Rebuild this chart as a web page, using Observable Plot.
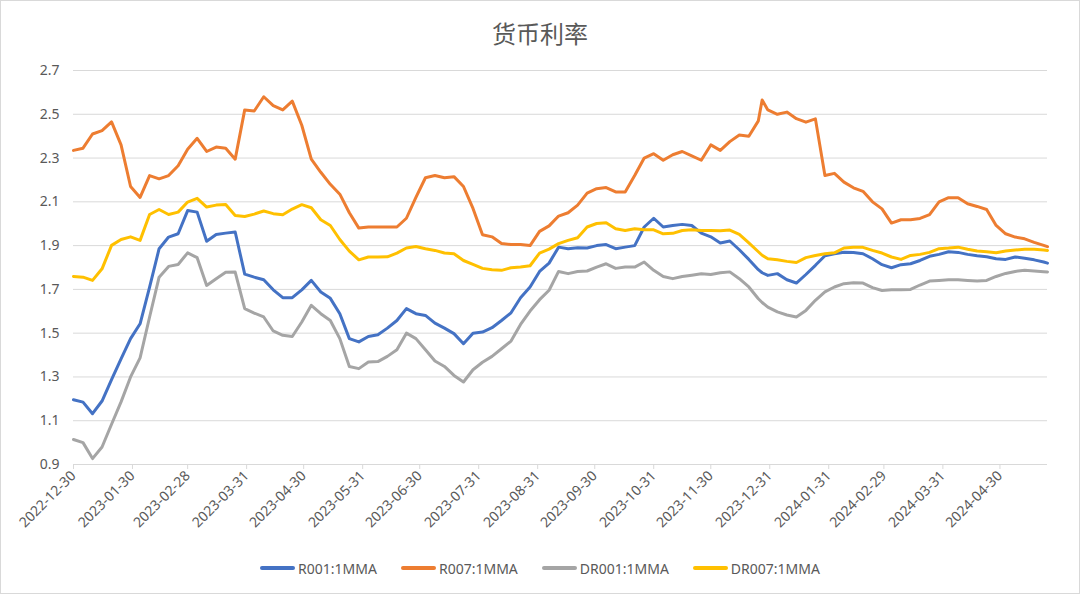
<!DOCTYPE html>
<html>
<head>
<meta charset="utf-8">
<script src="https://cdn.jsdelivr.net/npm/d3@7"></script>
<script src="https://cdn.jsdelivr.net/npm/@observablehq/plot@0.6"></script>
<style>
  html, body { margin: 0; padding: 0; background: #fff; }
  #wrap { position: relative; width: 1080px; height: 594px; background: #fff; overflow: hidden; }
  #frame { position: absolute; left: 0; top: 0; width: 1080px; height: 594px; box-sizing: border-box; border: 1px solid #d9d9d9; pointer-events: none; }
  #title { position: absolute; left: 0; top: 19px; width: 1080px; text-align: center; font-family: "Noto Sans CJK SC", sans-serif; font-size: 24px; line-height: 28px; color: #595959; }
  #plot { position: absolute; left: 0; top: 50px; }
  #legend { position: absolute; left: 0; top: 558px; width: 1080px; height: 20px; display: flex; justify-content: center; align-items: center; gap: 24px; font-family: "Noto Sans", sans-serif; font-size: 14px; color: #595959; }
  .item { display: flex; align-items: center; }
  .sw { display: inline-block; width: 35px; height: 4px; border-radius: 2px; margin-right: 3px; }
</style>
</head>
<body>
<div id="wrap">
  <div id="title">货币利率</div>
  <div id="plot"></div>
  <div id="legend"></div>
  <div id="frame"></div>
</div>
<script>
const seriesNames = ["R001:1MMA", "R007:1MMA", "DR001:1MMA", "DR007:1MMA"];
const seriesColors = ["#4472C4", "#ED7D31", "#A5A5A5", "#FFC000"];

const yTicks = [0.9, 1.1, 1.3, 1.5, 1.7, 1.9, 2.1, 2.3, 2.5, 2.7];
const xTickLabels = ["2022-12-30","2023-01-30","2023-02-28","2023-03-31","2023-04-30","2023-05-31","2023-06-30","2023-07-31","2023-08-31","2023-09-30","2023-10-31","2023-11-30","2023-12-31","2024-01-31","2024-02-29","2024-03-31","2024-04-30"];

const dates = [
"2022-12-30","2023-01-04","2023-01-09","2023-01-14","2023-01-19","2023-01-24","2023-01-29","2023-02-03","2023-02-08","2023-02-13",
"2023-02-18","2023-02-23","2023-02-28","2023-03-05","2023-03-10","2023-03-15","2023-03-20","2023-03-25","2023-03-30","2023-04-04",
"2023-04-09","2023-04-14","2023-04-19","2023-04-24","2023-04-29","2023-05-04","2023-05-09","2023-05-14","2023-05-19","2023-05-24",
"2023-05-29","2023-06-03","2023-06-08","2023-06-13","2023-06-18","2023-06-23","2023-06-28","2023-07-03","2023-07-08","2023-07-13",
"2023-07-18","2023-07-23","2023-07-28","2023-08-02","2023-08-07","2023-08-12","2023-08-17","2023-08-22","2023-08-27","2023-09-01",
"2023-09-06","2023-09-11","2023-09-16","2023-09-21","2023-09-26","2023-10-01","2023-10-06","2023-10-11","2023-10-16","2023-10-21",
"2023-10-26","2023-10-31","2023-11-05","2023-11-10","2023-11-15","2023-11-20","2023-11-25","2023-11-30","2023-12-05","2023-12-10",
"2023-12-15","2023-12-20","2023-12-25","2023-12-27","2023-12-30","2024-01-04","2024-01-09","2024-01-14","2024-01-19","2024-01-24","2024-01-29",
"2024-02-03","2024-02-08","2024-02-13","2024-02-18","2024-02-23","2024-02-28","2024-03-04","2024-03-09","2024-03-14","2024-03-19",
"2024-03-24","2024-03-29","2024-04-03","2024-04-08","2024-04-13","2024-04-18","2024-04-23","2024-04-28","2024-05-03","2024-05-08",
"2024-05-13","2024-05-18","2024-05-23","2024-05-25"];

const r001 = [
1.196,1.185,1.132,1.19,1.288,1.383,1.475,1.543,1.71,1.886,
1.939,1.954,2.06,2.053,1.92,1.951,1.957,1.962,1.77,1.756,
1.744,1.698,1.662,1.662,1.698,1.741,1.688,1.659,1.589,1.475,
1.46,1.485,1.493,1.523,1.558,1.612,1.589,1.581,1.546,1.523,
1.498,1.452,1.5,1.505,1.525,1.558,1.593,1.662,1.711,1.782,
1.82,1.893,1.886,1.89,1.889,1.9,1.905,1.886,1.893,1.9,
1.985,2.025,1.985,1.992,1.997,1.992,1.957,1.94,1.912,1.921,
1.881,1.837,1.79,1.776,1.764,1.772,1.744,1.729,1.768,1.81,1.854,
1.863,1.87,1.869,1.863,1.84,1.813,1.799,1.813,1.817,1.832,
1.851,1.86,1.872,1.869,1.86,1.854,1.849,1.84,1.837,1.848,
1.842,1.835,1.825,1.82];

const r007 = [
2.335,2.345,2.41,2.425,2.465,2.36,2.17,2.12,2.22,2.205,
2.22,2.265,2.34,2.39,2.33,2.35,2.345,2.295,2.52,2.515,
2.58,2.54,2.52,2.56,2.45,2.295,2.235,2.18,2.135,2.05,
1.98,1.985,1.985,1.985,1.985,2.025,2.12,2.21,2.22,2.21,
2.215,2.17,2.07,1.95,1.94,1.91,1.905,1.905,1.9,1.965,
1.99,2.035,2.05,2.085,2.14,2.16,2.165,2.145,2.145,2.22,
2.3,2.32,2.29,2.315,2.33,2.31,2.29,2.36,2.335,2.375,
2.405,2.4,2.47,2.565,2.52,2.5,2.51,2.48,2.464,2.479,2.22,
2.23,2.19,2.164,2.148,2.1,2.068,2.003,2.018,2.018,2.024,
2.042,2.1,2.119,2.119,2.091,2.079,2.065,1.992,1.954,1.939,
1.931,1.915,1.901,1.895];

const dr001 = [
1.014,1.0,0.927,0.98,1.084,1.186,1.3,1.387,1.574,1.756,
1.805,1.814,1.867,1.845,1.718,1.749,1.778,1.779,1.612,1.592,
1.574,1.51,1.49,1.485,1.551,1.627,1.589,1.558,1.475,1.348,
1.338,1.368,1.37,1.394,1.424,1.5,1.475,1.424,1.373,1.348,
1.307,1.277,1.333,1.367,1.394,1.429,1.464,1.54,1.601,1.653,
1.696,1.782,1.772,1.782,1.784,1.802,1.817,1.796,1.802,1.802,
1.825,1.787,1.759,1.749,1.759,1.765,1.771,1.768,1.776,1.78,
1.749,1.711,1.657,1.64,1.619,1.597,1.583,1.574,1.604,1.65,1.689,
1.711,1.726,1.73,1.729,1.708,1.695,1.698,1.698,1.7,1.72,
1.738,1.741,1.744,1.744,1.741,1.738,1.741,1.759,1.773,1.782,
1.787,1.784,1.781,1.78];

const dr007 = [
1.759,1.756,1.741,1.794,1.901,1.928,1.94,1.924,2.042,2.065,
2.042,2.053,2.099,2.116,2.076,2.085,2.088,2.038,2.033,2.044,
2.058,2.046,2.041,2.067,2.087,2.073,2.018,1.992,1.928,1.875,
1.835,1.848,1.848,1.849,1.866,1.889,1.896,1.886,1.878,1.866,
1.863,1.832,1.814,1.796,1.79,1.787,1.799,1.802,1.808,1.866,
1.884,1.909,1.924,1.936,1.985,2.001,2.004,1.977,1.969,1.977,
1.972,1.972,1.954,1.956,1.969,1.972,1.969,1.969,1.968,1.971,
1.951,1.912,1.872,1.856,1.84,1.835,1.828,1.823,1.845,1.855,1.863,
1.867,1.889,1.893,1.892,1.878,1.866,1.848,1.837,1.855,1.86,
1.869,1.886,1.889,1.893,1.883,1.875,1.872,1.867,1.875,1.88,
1.883,1.883,1.88,1.878];

const parse = d3.utcParse("%Y-%m-%d");
const fmt = d3.utcFormat("%Y-%m-%d");
const seriesValues = [r001, r007, dr001, dr007];
const rows = [];
seriesValues.forEach((vals, s) => {
  vals.forEach((v, i) => rows.push({series: seriesNames[s], date: parse(dates[i]), value: v}));
});

const lineMarks = seriesNames.map((name, s) =>
  Plot.line(rows.filter(r => r.series === name), {
    x: "date", y: "value", stroke: seriesColors[s], strokeWidth: 3,
    strokeLinejoin: "round", strokeLinecap: "round"
  })
);

const chart = Plot.plot({
  width: 1080,
  height: 500,
  marginTop: 20,
  marginBottom: 86,
  marginLeft: 73,
  marginRight: 33,
  x: {type: "utc", domain: [parse(dates[0]), parse(dates[dates.length - 1])]},
  y: {domain: [0.9, 2.7]},
  style: {fontFamily: "'Noto Sans', sans-serif", fontSize: "14px", color: "#595959", background: "transparent", overflow: "visible"},
  marks: [
    Plot.ruleY(yTicks, {stroke: "#d9d9d9", strokeWidth: 1}),
    Plot.axisY({ticks: yTicks, tickFormat: d3.format(".1f"), tickSize: 0, tickPadding: 14, fill: "#595959", label: null}),
    Plot.axisX({ticks: xTickLabels.map(parse), tickFormat: fmt, tickRotate: -45, tickSize: 5, tickPadding: 4, stroke: "#d9d9d9", fill: "#595959", label: null}),
    ...lineMarks
  ]
});
document.getElementById("plot").appendChild(chart);

const legend = document.getElementById("legend");
seriesNames.forEach((name, s) => {
  const item = document.createElement("div");
  item.className = "item";
  const sw = document.createElement("span");
  sw.className = "sw";
  sw.style.background = seriesColors[s];
  const tx = document.createElement("span");
  tx.textContent = name;
  item.appendChild(sw);
  item.appendChild(tx);
  legend.appendChild(item);
});
</script>
</body>
</html>
